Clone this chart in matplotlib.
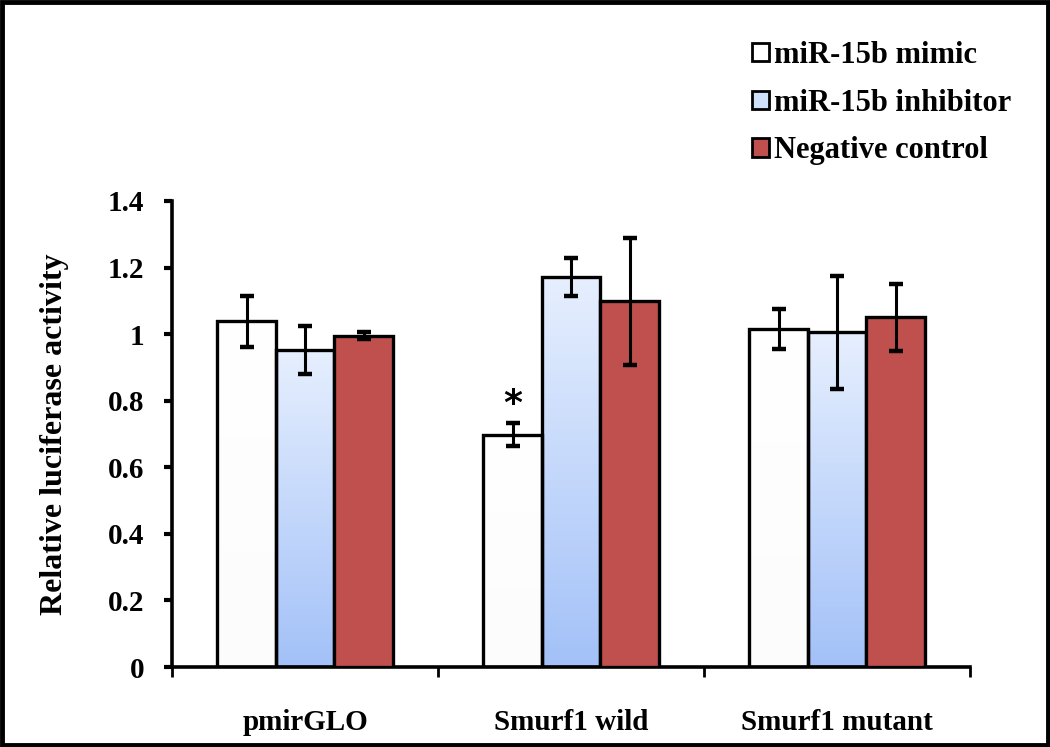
import numpy as np
import matplotlib
matplotlib.use("Agg")
import matplotlib.pyplot as plt
from matplotlib.patches import Rectangle, Patch
from matplotlib.colors import LinearSegmentedColormap

categories = ["pmirGLO", "Smurf1 wild", "Smurf1 mutant"]
series = ["miR-15b mimic", "miR-15b inhibitor", "Negative control"]
mimic = [1.038, 0.698, 1.015]
mimic_err = [0.078, 0.035, 0.06]
inhibitor = [0.952, 1.172, 1.005]
inhibitor_err = [0.072, 0.056, 0.17]
negative = [0.995, 1.098, 1.05]
negative_err = [0.01, 0.19, 0.10]
yticks = [0, 0.2, 0.4, 0.6, 0.8, 1, 1.2, 1.4]
ytick_labels = ["0", "0.2", "0.4", "0.6", "0.8", "1", "1.2", "1.4"]

plt.rcParams['font.family'] = ['Liberation Serif', 'DejaVu Serif']
plt.rcParams['font.weight'] = 'bold'

fig = plt.figure(figsize=(10.5, 7.47), dpi=100)
ax = fig.add_axes([0.164, 0.107, 0.76, 0.624])

values = [mimic, inhibitor, negative]
errs = [mimic_err, inhibitor_err, negative_err]
width = 0.22
offsets = [-width, 0, width]
x = np.arange(len(categories))

blue_cmap = LinearSegmentedColormap.from_list("bl", ["#a3c1f8", "#e6effe"])
white_cmap = LinearSegmentedColormap.from_list("wh", ["#fcfcfc", "#ffffff"])
solid_colors = [None, None, "#c0504d"]
cmaps = [white_cmap, blue_cmap, None]

for i in range(3):
    xs = x + offsets[i]
    bars = ax.bar(xs, values[i], width, color=solid_colors[i] if solid_colors[i] else "none",
                  edgecolor="black", linewidth=2.4, zorder=3)
    if cmaps[i] is not None:
        for b in bars:
            x0, w, h = b.get_x(), b.get_width(), b.get_height()
            grad = np.linspace(0, 1, 256).reshape(-1, 1)
            im = ax.imshow(grad, cmap=cmaps[i], aspect="auto", origin="lower",
                           extent=[x0, x0 + w, 0, h], zorder=2)
            im.set_clip_path(b)
    ax.errorbar(xs, values[i], yerr=errs[i], fmt="none", ecolor="black",
                elinewidth=2.2, capsize=5, capthick=3.2, zorder=4)

# significance star
ax.text(x[1] + offsets[0], mimic[1] + mimic_err[1] + 0.005, "*", ha="center",
        va="bottom", fontsize=26, fontweight="bold", family="DejaVu Sans")

ax.set_xlim(-0.5, 2.5)
ax.set_ylim(0, 1.4)
ax.set_yticks(yticks)
ax.set_yticklabels(ytick_labels, fontsize=21, fontweight="bold")
ax.set_xticks([-0.5, 0.5, 1.5, 2.5])
ax.set_xticklabels([])
ax.set_xticks(x, minor=True)
ax.set_xticklabels(categories, minor=True, fontsize=21, fontweight="bold")
ax.tick_params(axis="x", which="minor", length=0, pad=30)
ax.tick_params(axis="x", which="major", length=7, width=2, direction="out")
ax.tick_params(axis="y", length=6, width=3, direction="out", pad=14)
for s in ["top", "right"]:
    ax.spines[s].set_visible(False)
for s in ["left", "bottom"]:
    ax.spines[s].set_linewidth(2.6)
ax.set_ylabel("Relative luciferase activity", fontsize=23, fontweight="bold", labelpad=28)

handles = [Patch(facecolor="white", edgecolor="black", linewidth=2),
           Patch(facecolor="#cfe0fb", edgecolor="black", linewidth=2),
           Patch(facecolor="#c0504d", edgecolor="black", linewidth=2)]
fig.legend(handles, series, loc="upper left", bbox_to_anchor=(0.705, 0.962),
           frameon=False, prop={"weight": "bold", "size": 22},
           handlelength=0.55, handleheight=0.55, handletextpad=0.15,
           labelspacing=0.62, borderaxespad=0)

fig.patches.append(Rectangle((0.002, 0.003), 0.996, 0.994, transform=fig.transFigure,
                             fill=False, edgecolor="black", linewidth=3.5))

fig.savefig("out.png", dpi=100)
